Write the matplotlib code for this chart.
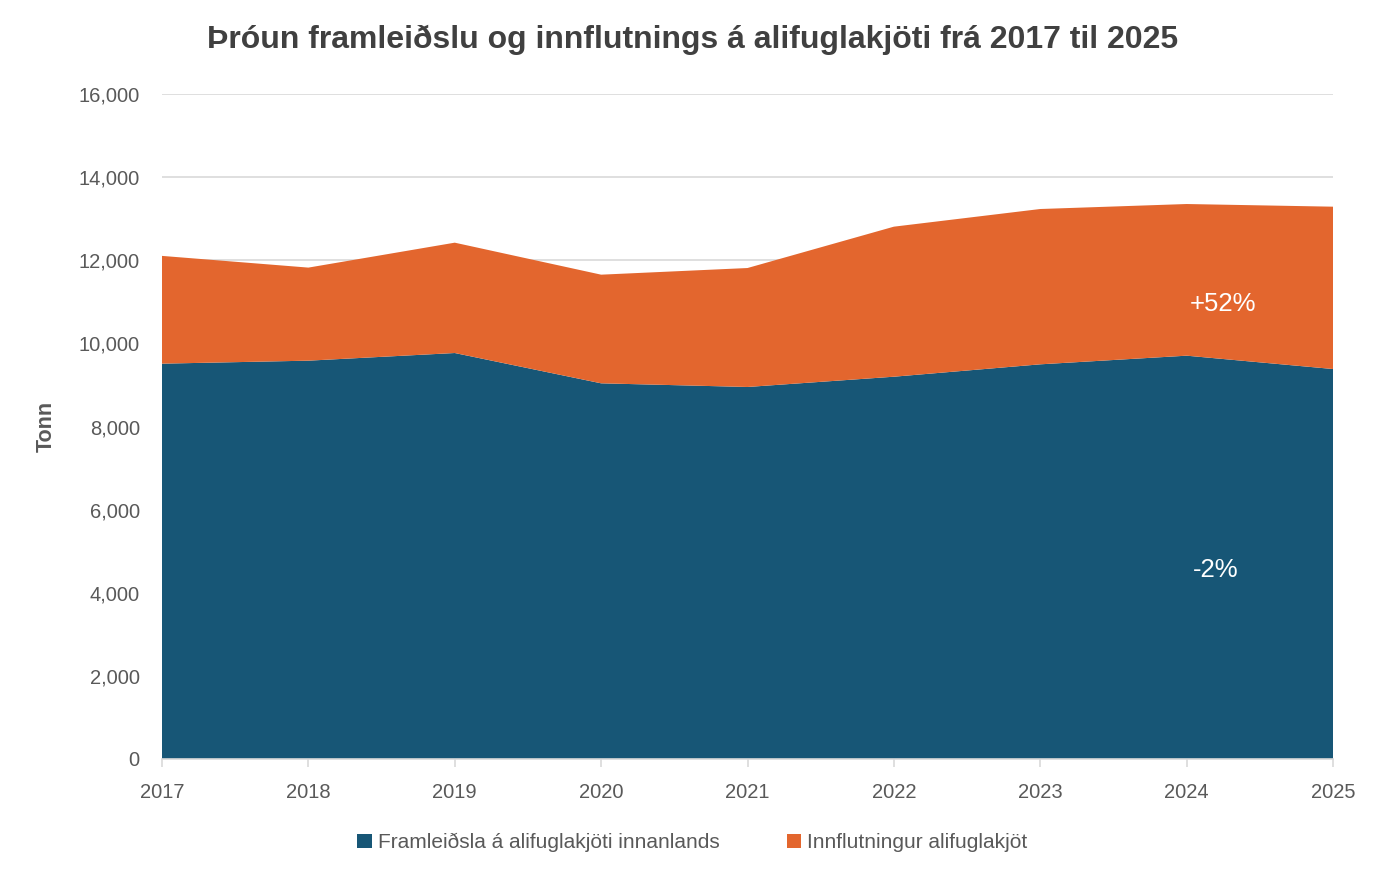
import matplotlib
matplotlib.use("Agg")
import matplotlib.pyplot as plt
from matplotlib.ticker import FuncFormatter, MultipleLocator
from matplotlib.patches import Patch

years = [2017, 2018, 2019, 2020, 2021, 2022, 2023, 2024, 2025]
production = [9512, 9584, 9768, 9039, 8951, 9198, 9496, 9704, 9383]
imports = [2593, 2239, 2655, 2614, 2862, 3610, 3737, 3649, 3906]
series_names = ["Framleiðsla á alifuglakjöti innanlands", "Innflutningur alifuglakjöt"]
colors = ["#175676", "#E3662E"]
title = "Þróun framleiðslu og innflutnings á alifuglakjöti frá 2017 til 2025"
ylabel = "Tonn"
notes = ["+52%", "-2%"]

plt.rcParams['font.family'] = ['Liberation Sans', 'DejaVu Sans']

fig = plt.figure(figsize=(13.85, 8.84), dpi=100)
ax = fig.add_axes([162/1385, (884-759)/884, (1333-162)/1385, (759-94)/884])

ax.stackplot(years, production, imports, colors=colors, linewidth=0, zorder=2)

ax.set_xlim(years[0], years[-1])
ax.set_ylim(0, 16000)
ax.yaxis.set_major_locator(MultipleLocator(2000))
ax.yaxis.set_major_formatter(FuncFormatter(lambda v, p: f"{int(v):,}"))
ax.set_xticks(years)
ax.grid(axis='y', color='#D9D9D9', linewidth=1.2, zorder=1)
ax.set_axisbelow(True)
for s in ['top', 'right', 'left']:
    ax.spines[s].set_visible(False)
ax.spines['bottom'].set_color('#D9D9D9')
ax.spines['bottom'].set_linewidth(1.2)
ax.spines['bottom'].set_zorder(3)
ax.tick_params(axis='y', length=0, pad=16, labelsize=14.5, labelcolor='#595959')
ax.tick_params(axis='x', length=6, width=1.2, color='#D9D9D9', pad=11, labelsize=14.5, labelcolor='#595959')

ax.set_ylabel(ylabel, fontsize=15.5, fontweight='bold', color='#595959', labelpad=16)

fig.text(0.5, 0.955, title, ha='center', va='center', fontsize=23, fontweight='bold',
         color='#404040', family=['Liberation Sans Narrow', 'Liberation Sans', 'DejaVu Sans'])

ax.text(2024.25, 10950, notes[0], color='white', fontsize=18.5, ha='center', va='center', zorder=4)
ax.text(2024.2, 4550, notes[1], color='white', fontsize=18.5, ha='center', va='center', zorder=4)

handles = [Patch(facecolor=c, edgecolor='none') for c in colors]
fig.legend(handles, series_names, loc='center', bbox_to_anchor=(0.5, 0.047), ncol=2,
           frameon=False, labelcolor='#595959', handlelength=0.7, handleheight=0.7,
           handletextpad=0.3, columnspacing=3.2,
           prop={'family': ['Liberation Sans Narrow', 'Liberation Sans'], 'size': 15})

fig.savefig("out.png", dpi=100, facecolor='white')
